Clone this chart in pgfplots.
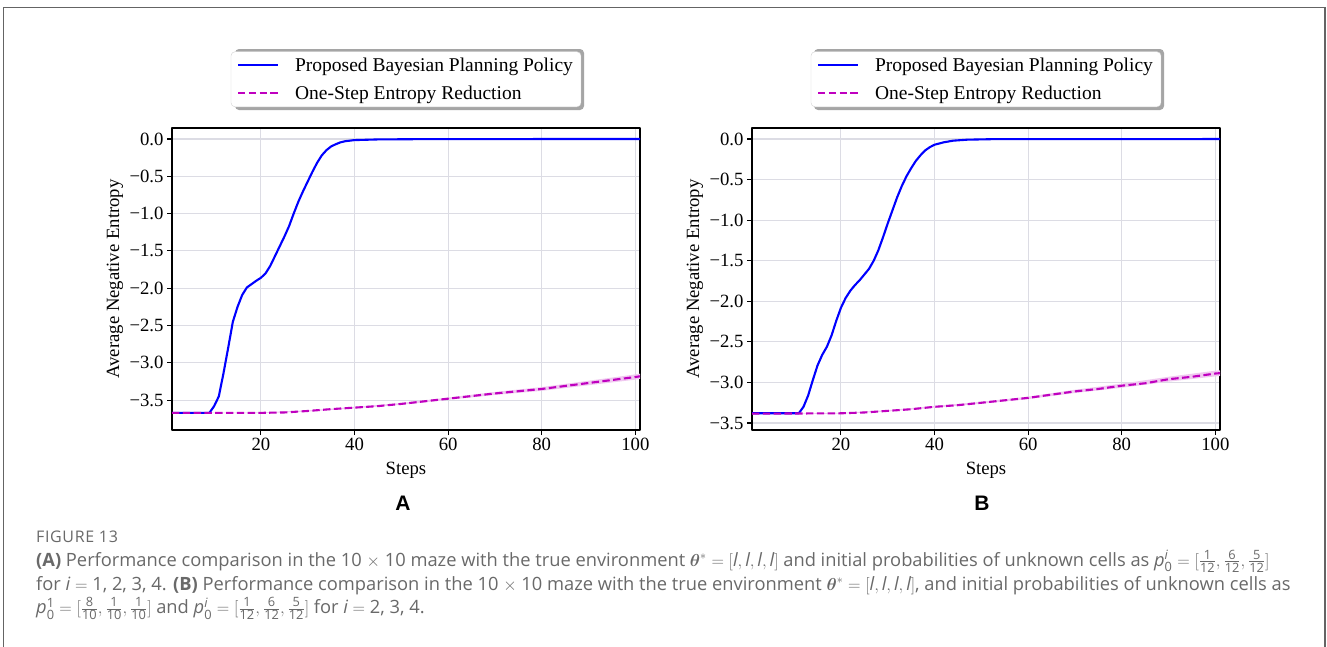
\documentclass[border=0pt]{standalone}
\usepackage{amsmath}
\usepackage{bm}
\usepackage{fontspec}
\setmainfont{Liberation Serif}
\newfontfamily\capfont{Open Sans}
\newfontfamily\figfont[LetterSpace=4]{Open Sans}
\newfontfamily\labfont{Liberation Sans}
\usepackage{pgfplots}
\pgfplotsset{compat=1.18}

\definecolor{gridc}{RGB}{220,220,228}
\definecolor{mline}{RGB}{191,0,191}
\definecolor{bline}{RGB}{0,0,255}
\definecolor{bandc}{RGB}{240,200,240}
\definecolor{capgray}{RGB}{105,105,105}
\definecolor{framegray}{RGB}{100,100,100}
\definecolor{shadowc}{RGB}{165,165,165}

\newcommand{\pf}{\fontsize{18.7}{22}\selectfont}
\newcommand{\lf}{\fontsize{19.5}{22}\selectfont}
\newcommand{\cf}{\capfont\fontsize{18.3}{20}\selectfont}
\newcommand{\fr}[2]{\tfrac{\text{#1}}{\text{#2}}}

\pgfplotsset{
  myax/.style={
    width=468pt, height=302pt, scale only axis,
    xmin=1, xmax=101,
    xtick={20,40,60,80,100}, xticklabels={20,40,60,80,100},
    ytick={-3.5,-3,-2.5,-2,-1.5,-1,-0.5,0},
    yticklabels={−3.5,−3.0,−2.5,−2.0,−1.5,−1.0,−0.5,0.0},
    grid=major, major grid style={draw=gridc, line width=1.1pt},
    axis line style={line width=1.6pt, black},
    tick align=outside, xtick pos=left, ytick pos=left,
    major tick length=5pt, every tick/.style={black, line width=1.1pt},
    tick label style={font=\pf},
    label style={font=\pf},
    xlabel={Steps}, ylabel={Average Negative Entropy},
    xlabel style={at={(axis description cs:0.5,-0.1325)}, anchor=center},
    ylabel style={at={(axis description cs:-0.1218,0.5)}, anchor=center},
    legend style={at={(0.5,1)}, anchor=south, yshift=21pt, font=\lf,
      draw=gray!35, rounded corners=4pt, fill=white,
      inner xsep=6pt, inner ysep=4pt, row sep=9pt,
      /tikz/every odd column/.append style={column sep=14pt}},
    legend cell align=left,
    legend image code/.code={\draw[#1] (0pt,0pt) -- (40pt,0pt);},
    line join=round,
  }
}

\begin{document}
\begin{tikzpicture}
\path[use as bounding box] (0pt,0pt) rectangle (1327pt,-646pt);
\fill[white] (0pt,0pt) rectangle (1327pt,-646pt);
\draw[framegray, line width=1.6pt] (3.3pt,-650pt) -- (3.3pt,-7.5pt) -- (1325pt,-7.5pt) -- (1325pt,-650pt);

% legend shadows
\fill[shadowc, rounded corners=4pt] (235pt,-49pt) rectangle (584pt,-110pt);
\fill[shadowc, rounded corners=4pt] (814pt,-49pt) rectangle (1164pt,-110pt);

% ---------------- Panel A ----------------
\begin{axis}[myax, at={(172pt,-430pt)}, anchor=south west, ymin=-3.90, ymax=0.147]
\addplot[draw=none, fill=bandc, forget plot] coordinates {
(1,-3.67) (10,-3.668) (20,-3.665) (30,-3.637) (40,-3.59) (50,-3.538) (60,-3.465) (70,-3.39) (80,-3.325) (90,-3.24) (100,-3.155) (101,-3.145)
(101,-3.215) (100,-3.225) (90,-3.30) (80,-3.375) (70,-3.43) (60,-3.495) (50,-3.562) (40,-3.61) (30,-3.653) (20,-3.675) (10,-3.672) (1,-3.67)} -- cycle;
\addplot[bline, line width=2.1pt] coordinates {
(1,-3.67) (9,-3.67) (10,-3.58) (11,-3.45) (12,-3.14) (13,-2.80) (14,-2.45) (15,-2.25) (16,-2.09) (17,-1.99) (18,-1.945) (19,-1.90) (20,-1.86) (21,-1.80) (22,-1.70) (23,-1.57) (24,-1.44) (25,-1.31) (26,-1.17) (27,-1.00) (28,-0.84) (29,-0.70) (30,-0.57) (31,-0.44) (32,-0.32) (33,-0.22) (34,-0.15) (35,-0.10) (36,-0.07) (37,-0.045) (38,-0.03) (40,-0.015) (45,-0.006) (55,-0.002) (101,0)};
\addlegendentry{Proposed Bayesian Planning Policy}
\addplot[mline, line width=2.1pt, dash pattern=on 7.4pt off 3.4pt] coordinates {
(1,-3.67) (20,-3.67) (25,-3.665) (30,-3.645) (35,-3.62) (40,-3.60) (45,-3.58) (50,-3.55) (55,-3.515) (60,-3.48) (65,-3.445) (70,-3.41) (75,-3.38) (80,-3.35) (85,-3.31) (90,-3.27) (95,-3.23) (100,-3.19) (101,-3.18)};
\addlegendentry{One-Step Entropy Reduction}
\end{axis}

% ---------------- Panel B ----------------
\begin{axis}[myax, at={(752pt,-430pt)}, anchor=south west, ymin=-3.586, ymax=0.136]
\addplot[draw=none, fill=bandc, forget plot] coordinates {
(1,-3.385) (10,-3.383) (20,-3.375) (30,-3.342) (40,-3.29) (50,-3.238) (60,-3.175) (70,-3.09) (80,-3.015) (90,-2.93) (100,-2.855) (101,-2.85)
(101,-2.92) (100,-2.925) (90,-2.99) (80,-3.065) (70,-3.13) (60,-3.205) (50,-3.262) (40,-3.31) (30,-3.358) (20,-3.385) (10,-3.387) (1,-3.385)} -- cycle;
\addplot[bline, line width=2.1pt] coordinates {
(1,-3.38) (11,-3.38) (12,-3.30) (13,-3.16) (14,-2.97) (15,-2.79) (16,-2.66) (17,-2.56) (18,-2.42) (19,-2.24) (20,-2.08) (21,-1.96) (22,-1.87) (23,-1.80) (24,-1.74) (25,-1.67) (26,-1.60) (27,-1.50) (28,-1.37) (29,-1.21) (30,-1.04) (31,-0.88) (32,-0.72) (33,-0.58) (34,-0.46) (35,-0.36) (36,-0.27) (37,-0.20) (38,-0.14) (39,-0.10) (40,-0.07) (42,-0.04) (44,-0.02) (47,-0.008) (52,-0.002) (101,0)};
\addlegendentry{Proposed Bayesian Planning Policy}
\addplot[mline, line width=2.1pt, dash pattern=on 7.4pt off 3.4pt] coordinates {
(1,-3.385) (20,-3.38) (25,-3.37) (30,-3.35) (35,-3.33) (40,-3.30) (45,-3.28) (50,-3.25) (55,-3.22) (60,-3.19) (65,-3.15) (70,-3.11) (75,-3.08) (80,-3.04) (85,-3.01) (90,-2.96) (95,-2.93) (100,-2.89) (101,-2.885)};
\addlegendentry{One-Step Entropy Reduction}
\end{axis}

% panel letters
\node[anchor=base, font=\labfont\bfseries\fontsize{21}{21}\selectfont] at (403pt,-510pt) {A};
\node[anchor=base, font=\labfont\bfseries\fontsize{21}{21}\selectfont] at (982pt,-510pt) {B};

% caption
\node[anchor=base west, inner sep=0pt, text=capgray, font=\figfont\fontsize{16}{15}\selectfont] at (36pt,-542.3pt) {FIGURE 13};
\node[anchor=base west, inner sep=0pt, text=capgray, font=\cf] at (36pt,-566pt) {\textbf{(A)} Performance comparison in the 10 $\times$ 10 maze with the true environment $\bm{\theta}^{*} = [\textit{l}, \textit{l}, \textit{l}, \textit{l}]$ and initial probabilities of unknown cells as $\textit{p}_{\text{0}}^{\textit{i}} = [\fr{1}{12}, \fr{6}{12}, \fr{5}{12}]$};
\node[anchor=base west, inner sep=0pt, text=capgray, font=\cf] at (36pt,-590pt) {for $\textit{i} = \text{1, 2, 3, 4}$. \textbf{(B)} Performance comparison in the 10 $\times$ 10 maze with the true environment $\bm{\theta}^{*} = [\textit{l}, \textit{l}, \textit{l}, \textit{l}]$, and initial probabilities of unknown cells as};
\node[anchor=base west, inner sep=0pt, text=capgray, font=\cf] at (36pt,-613.3pt) {$\textit{p}_{\text{0}}^{\text{1}} = [\fr{8}{10}, \fr{1}{10}, \fr{1}{10}]$ and $\textit{p}_{\text{0}}^{\textit{i}} = [\fr{1}{12}, \fr{6}{12}, \fr{5}{12}]$ for $\textit{i} = \text{2, 3, 4}$.};
\end{tikzpicture}
\end{document}
